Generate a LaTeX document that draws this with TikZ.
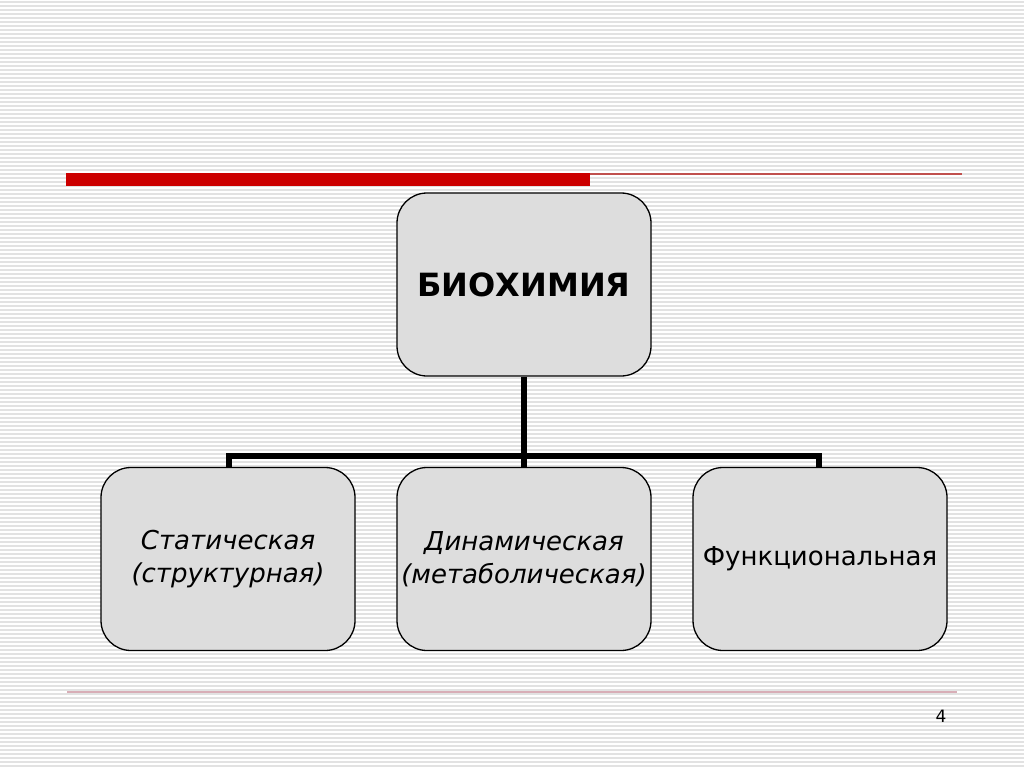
\documentclass[tikz,border=0pt]{standalone}
\usepackage{fontspec}
\setmainfont{DejaVu Sans}
\usepackage{tikz}
\usetikzlibrary{positioning,calc}
\definecolor{stripe}{HTML}{E2E2E2}
\definecolor{topred}{HTML}{CC0000}
\definecolor{thinred}{HTML}{C0504D}
\definecolor{footline}{HTML}{D8AEB7}
\definecolor{boxfill}{HTML}{DDDDDD}
\begin{document}
\begin{tikzpicture}[x=1pt, y=-1pt,
  card/.style={draw=black, line width=1.3pt, fill=boxfill, rounded corners=30pt,
    minimum width=254pt, minimum height=183pt, align=center, inner sep=0pt},
  tree/.style={line width=6pt, line join=miter, black}]
\useasboundingbox (0,0) rectangle (1024,767);
% striped background
\fill[white] (0,0) rectangle (1024,767);
\foreach \i in {0,...,191} \fill[stripe] (0,4*\i+1) rectangle (1024,4*\i+3);
% title rules
\fill[topred] (66,173) rectangle (590,186);
\draw[thinred, line width=1.5pt] (590,174) -- (962,174);
\draw[footline, line width=2pt] (67,692) -- (957,692);
\node[font=\fontsize{17}{19}\selectfont] (pagenum) at (941,716) {4};
% boxes
\node[card, font=\bfseries\fontsize{32}{36}\selectfont] (bio) at (524,284.5) {БИОХИМИЯ};
\node[card, font=\itshape\fontsize{26}{33}\selectfont] (stat) at (228,559) {Статическая\\(структурная)};
\node[card, font=\itshape\fontsize{26}{33}\selectfont] (dyn) at (524,559) {Динамическая\\(метаболическая)};
\node[card, font=\fontsize{26}{33}\selectfont] (func) at (820,559) {Функциональная};
% connectors
\coordinate (barl) at (229,455.5);
\coordinate (barr) at (819,455.5);
\draw[tree] (stat.north -| barl) -- (barl) -- (barr) -- (func.north -| barr);
\draw[tree] (bio.south) -- (dyn.north);
\end{tikzpicture}
\end{document}
